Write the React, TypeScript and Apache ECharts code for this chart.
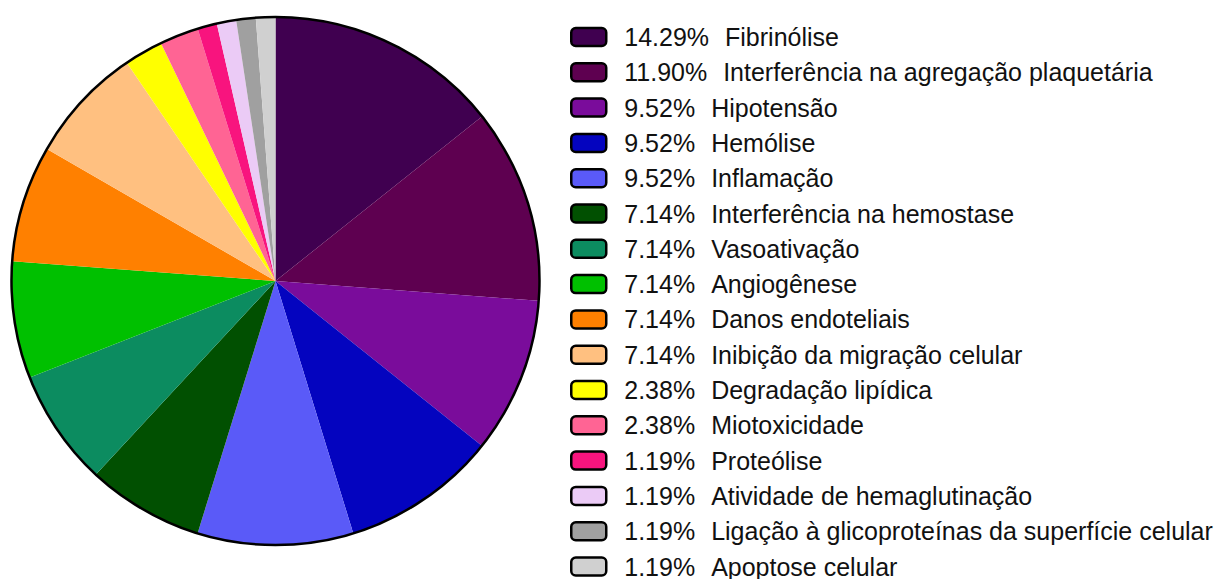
import React, { useEffect, useRef } from "react";
import * as echarts from "echarts";

const categories = [
  "Fibrinólise",
  "Interferência na agregação plaquetária",
  "Hipotensão",
  "Hemólise",
  "Inflamação",
  "Interferência na hemostase",
  "Vasoativação",
  "Angiogênese",
  "Danos endoteliais",
  "Inibição da migração celular",
  "Degradação lipídica",
  "Miotoxicidade",
  "Proteólise",
  "Atividade de hemaglutinação",
  "Ligação à glicoproteínas da superfície celular",
  "Apoptose celular",
];

const percentages = [
  "14.29", "11.90", "9.52", "9.52", "9.52", "7.14", "7.14", "7.14",
  "7.14", "7.14", "2.38", "2.38", "1.19", "1.19", "1.19", "1.19",
];

const colors = [
  "#400050", "#5E0050", "#7A0C9B", "#0404BF", "#5A5AF8", "#015001",
  "#0C8C60", "#00C000", "#FF8000", "#FFC080", "#FFFF00", "#FF6494",
  "#F8147E", "#EBCBF6", "#A0A0A0", "#D0D0D0",
];

export default function App() {
  const ref = useRef<HTMLDivElement>(null);
  useEffect(() => {
    if (!ref.current) return;
    const chart = echarts.init(ref.current, null, { renderer: "svg" });
    const pctMap: Record<string, string> = {};
    categories.forEach((c, i) => (pctMap[c] = percentages[i]));
    const font = "'Liberation Sans', Arial, sans-serif";
    const lh = 28;
    chart.setOption({
      animation: false,
      backgroundColor: "#ffffff",
      legend: {
        orient: "vertical",
        left: 570,
        top: 23,
        height: 700,
        padding: 0,
        itemWidth: 35,
        itemHeight: 18,
        itemGap: 35.3 - lh,
        icon: "roundRect",
        data: categories,
        selectedMode: false,
        itemStyle: { borderColor: "#000", borderWidth: 2.5 },
        formatter: (name: string) => `{p|${pctMap[name]}%}{n|${name}}`,
        textStyle: {
          fontFamily: font,
          fontSize: 25,
          color: "#111",
          lineHeight: lh,
          padding: [0, 0, 0, 13],
          rich: {
            p: { fontFamily: font, fontSize: 25, color: "#111", lineHeight: lh, padding: [0, 16, 0, 0] },
            n: { fontFamily: font, fontSize: 25, color: "#111", lineHeight: lh },
          },
        },
      },
      series: [
        {
          type: "pie",
          center: [275.5, 281],
          radius: 264,
          startAngle: 90,
          clockwise: true,
          label: { show: false },
          labelLine: { show: false },
          emphasis: { disabled: true },
          itemStyle: { borderWidth: 0 },
          data: categories.map((c, i) => ({
            name: c,
            value: parseFloat(percentages[i]),
            itemStyle: { color: colors[i] },
          })),
        },
        {
          type: "pie",
          center: [275.5, 281],
          radius: 264,
          silent: true,
          label: { show: false },
          labelLine: { show: false },
          emphasis: { disabled: true },
          itemStyle: { color: "rgba(0,0,0,0)", borderColor: "#000", borderWidth: 2.5 },
          data: [{ name: "__outline", value: 1 }],
        },
      ],
    });
    return () => chart.dispose();
  }, []);
  return (
    <div
      ref={ref}
      style={{ position: "fixed", left: 0, top: 0, width: 1223, height: 579 }}
    />
  );
}
